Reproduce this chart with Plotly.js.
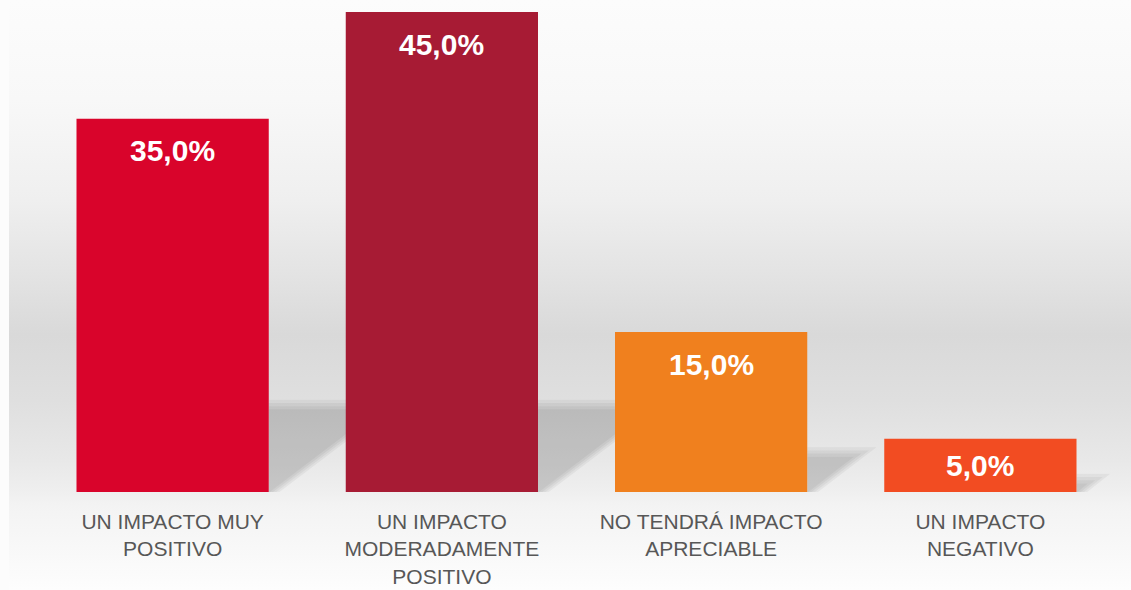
<!DOCTYPE html>
<html>
<head>
<meta charset="utf-8">
<script src="https://cdn.plot.ly/plotly-3.0.1.min.js"></script>
<style>
  html, body { margin: 0; padding: 0; background: #fcfcfc; }
  #chart {
    width: 1131px;
    height: 590px;
    background:
      linear-gradient(to right, #fcfcfc 9px, rgba(252,252,252,0) 9px),
      linear-gradient(to bottom, #fcfcfc 0px, #f8f8f8 100px, #efefef 200px, #e4e4e4 270px,
        #d9d9d9 335px, #dfdfdf 400px, #e8e8e8 460px, #efefef 492px, #f3f3f3 505px, #fdfdfd 590px);
  }
</style>
</head>
<body>
<div id="chart"></div>
<script>
'use strict';

var categories = ['UN IMPACTO MUY<br>POSITIVO',
  'UN IMPACTO<br>MODERADAMENTE<br>POSITIVO',
  'NO TENDRÁ IMPACTO<br>APRECIABLE',
  'UN IMPACTO<br>NEGATIVO'
];
var values = [35, 45, 15, 5];
var barColors = ['#d9042b', //Red
'#a71b34', //Dark red
'#f0801e', //Orange
'#f24c22' //Red orange
];

var barGap = 0.286;

function formatPercent(v) {
  return v.toFixed(1).replace('.', ',') + '%';
}

// soft grey shadow to the right of each bar, faked with a few stacked layers
function createShadows() {
  var shapes = [];
  var half = (1 - barGap) / 2;
  for (var i = 0; i < values.length; i++) {
    var h = Math.min(values[i] * 0.25, 8.2);
    var x0 = i + half;
    for (var k = 0; k < 4; k++) {
      var hk = h - 0.45 + 0.3 * k;
      var reach = hk / 19 + 0.012 * k;
      shapes.push({
        type: 'path',
        layer: 'below',
        line: { width: 0 },
        fillcolor: 'rgba(0,0,0,0.045)',
        path: 'M' + x0 + ',0 L' + x0 + ',' + hk + ' L' + (x0 + reach) + ',' + hk +
          ' L' + (x0 + 0.004 + 0.012 * k) + ',0 Z'
      });
    }
  }
  return shapes;
}

function createValueLabels() {
  var annotations = [];
  for (var i = 0; i < values.length; i++) {
    annotations.push({
      x: i,
      y: Math.max(values[i] - 3, values[i] / 2),
      xref: 'x',
      yref: 'y',
      text: '<b>' + formatPercent(values[i]) + '</b>',
      showarrow: false,
      yanchor: 'middle',
      font: { family: 'Liberation Sans, Arial, sans-serif', size: 30, color: '#ffffff' }
    });
  }
  return annotations;
}

var data = [{
  type: 'bar',
  x: [0, 1, 2, 3],
  y: values,
  marker: { color: barColors, line: { width: 0 } },
  hoverinfo: 'skip'
}];

var layout = {
  width: 1131,
  height: 590,
  margin: { l: 38, r: 16, t: 12, b: 98 },
  paper_bgcolor: 'rgba(0,0,0,0)',
  plot_bgcolor: 'rgba(0,0,0,0)',
  bargap: barGap,
  showlegend: false,
  xaxis: {
    range: [-0.5, 3.5],
    tickmode: 'array',
    tickvals: [0, 1, 2, 3],
    ticktext: categories,
    ticks: '',
    ticklabelstandoff: 15,
    showline: false,
    showgrid: false,
    zeroline: false,
    tickfont: { family: 'Liberation Sans, Arial, sans-serif', size: 21, color: '#575757' }
  },
  yaxis: {
    range: [0, 45],
    showticklabels: false,
    showgrid: false,
    zeroline: false,
    showline: false
  },
  shapes: createShadows(),
  annotations: createValueLabels()
};

Plotly.newPlot('chart', data, layout, { displayModeBar: false, staticPlot: true });
</script>
</body>
</html>
